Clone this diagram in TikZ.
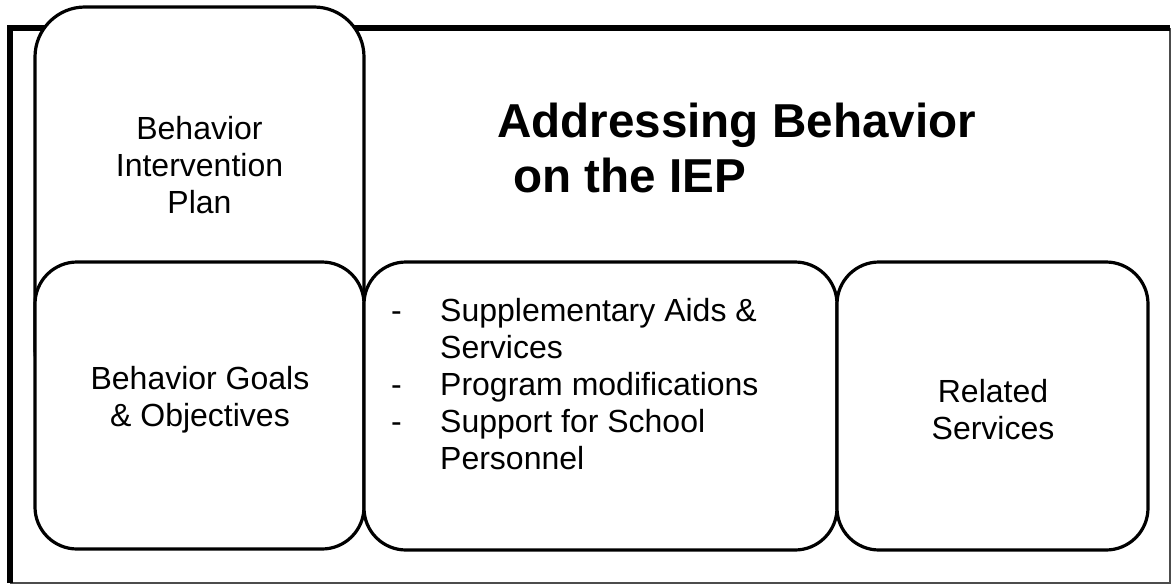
\documentclass[tikz,border=0pt]{standalone}
\usepackage{fontspec}
\setmainfont{Liberation Sans}

\begin{document}
\begin{tikzpicture}[x=1pt,y=-1pt]
   \tikzstyle{box} = [draw,fill=white,line width=3.2pt,rounded corners=42pt,
     inner sep=0pt]
   \tikzstyle{txt} = [inner sep=0pt,align=center,
     font=\fontsize{32}{37}\selectfont]
   \tikzstyle{head} = [inner sep=0pt,anchor=base west,
     font=\bfseries\fontsize{47.6}{56}\selectfont]
   \useasboundingbox (0,0) rectangle (1173,586);
    %% frame
    \draw [line width=1.5pt,black!70] (1170,28) -- (1170,583) -- (10,583);
    \draw [line width=6pt] (10,583) -- (10,28) -- (1170,28);
    %% boxes
    \node (bip) [box,rounded corners=50pt,minimum width=329pt,
      minimum height=393pt] at (199.5,203.5) {};
    \node (goals) [box,minimum width=329pt,minimum height=287pt]
      at (199.5,405.5) {};
    \node (supp) [box,minimum width=473pt,minimum height=288pt]
      at (600.5,406) {};
    \node (related) [box,minimum width=311pt,minimum height=288pt]
      at (992.5,406) {};
    %% texts
    \node (biptext) [txt] at (199.5,165) {Behavior\\Intervention\\Plan};
    \node (goalstext) [txt] at (200,400) {Behavior Goals\\\& Objectives};
    \node (supptext) [txt,align=left,anchor=west] at (391,384)
      {\makebox[49pt][l]{-}Supplementary Aids \&\\
       \hspace*{49pt}Services\\
       \makebox[49pt][l]{-}Program modifications\\
       \makebox[49pt][l]{-}Support for School\\
       \hspace*{49pt}Personnel};
    \node (relatedtext) [txt] at (993,410) {Related\\Services};
    %%
    \node (title) [head] at (497,137) {Addressing Behavior};
    \node (subtitle) [head] at (513,192) {on the IEP};
  \end{tikzpicture}
\end{document}
